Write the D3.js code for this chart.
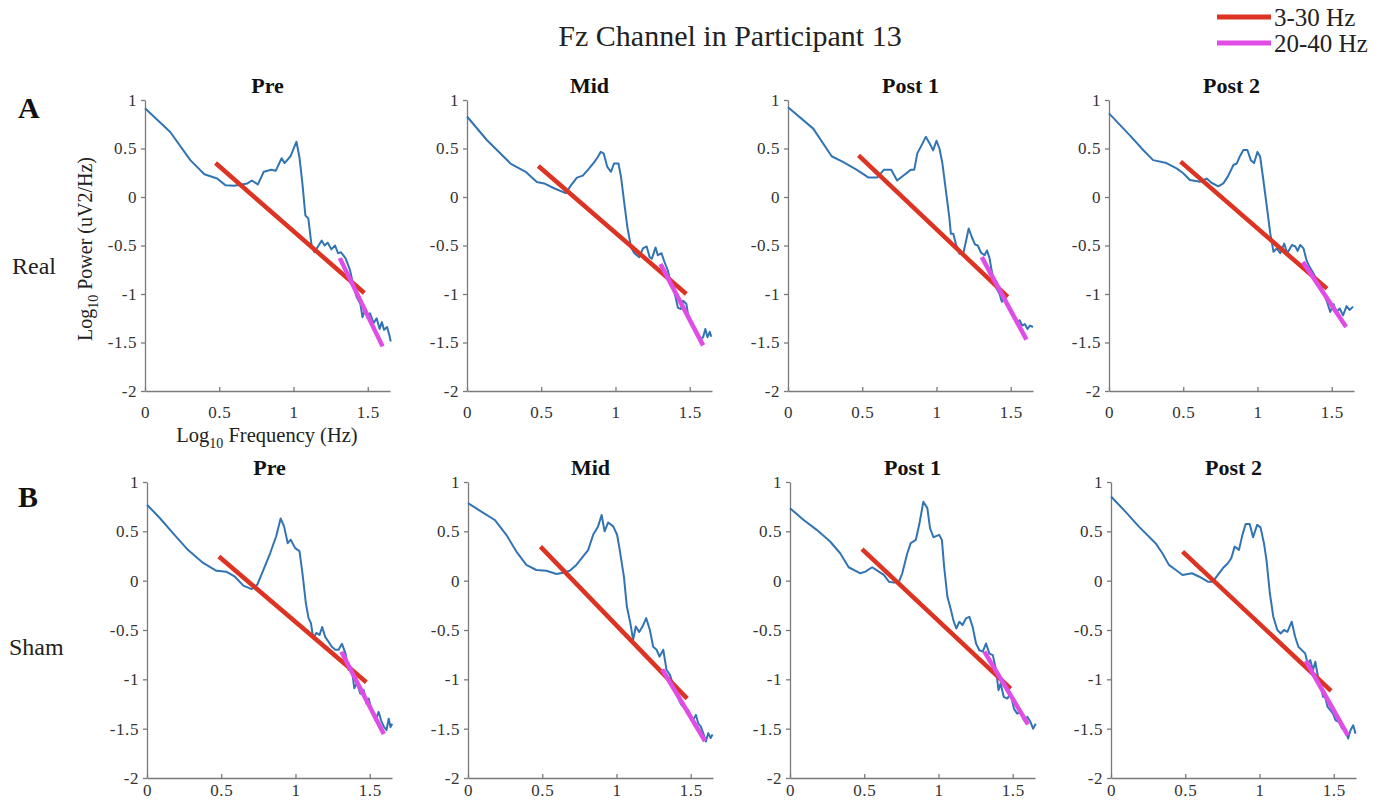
<!DOCTYPE html>
<html>
<head>
<meta charset="utf-8">
<script src="https://cdn.jsdelivr.net/npm/d3@7"></script>
<style>
  body { margin: 0; background: #fff; }
  text { font-family: "Liberation Serif", "Times New Roman", serif; }
</style>
</head>
<body>
<div id="chart"></div>
<script>
// panel labels
const sessions = ["Pre", "Mid", "Post 1", "Post 2"];
const conditions = ["Real", "Sham"];
const rowLetters = ["A", "B"];
const legendLabels = ["3-30 Hz", "20-40 Hz"];
const xTicks = [0, 0.5, 1, 1.5];
const yTicks = [1, 0.5, 0, -0.5, -1, -1.5, -2];

// spectra: [log10 frequency, log10 power]
const realPre = [[0,0.914],[0.17,0.67],[0.305,0.38],[0.40,0.235],[0.486,0.19],[0.543,0.12],[0.60,0.115],[0.69,0.14],[0.72,0.17],[0.76,0.13],[0.80,0.26],[0.85,0.28],[0.88,0.27],[0.92,0.40],[0.94,0.35],[0.98,0.42],[1.02,0.57],[1.04,0.41],[1.06,0.14],[1.08,-0.19],[1.10,-0.22],[1.12,-0.48],[1.14,-0.57],[1.165,-0.51],[1.19,-0.45],[1.21,-0.50],[1.23,-0.47],[1.255,-0.54],[1.28,-0.50],[1.30,-0.58],[1.32,-0.57],[1.35,-0.63],[1.365,-0.69],[1.38,-0.75],[1.40,-0.89],[1.425,-1.03],[1.45,-1.10],[1.465,-1.24],[1.48,-1.17],[1.50,-1.25],[1.515,-1.20],[1.54,-1.30],[1.56,-1.25],[1.58,-1.36],[1.595,-1.29],[1.61,-1.37],[1.63,-1.34],[1.645,-1.42],[1.655,-1.49]];
const realMid = [[0,0.83],[0.135,0.585],[0.293,0.345],[0.395,0.26],[0.47,0.155],[0.52,0.14],[0.586,0.09],[0.665,0.04],[0.70,0.12],[0.74,0.20],[0.78,0.22],[0.82,0.29],[0.857,0.36],[0.88,0.41],[0.90,0.465],[0.92,0.45],[0.945,0.31],[0.97,0.26],[0.99,0.345],[1.02,0.345],[1.037,0.21],[1.06,-0.07],[1.08,-0.31],[1.105,-0.52],[1.127,-0.58],[1.16,-0.62],[1.185,-0.53],[1.21,-0.51],[1.23,-0.62],[1.245,-0.635],[1.27,-0.52],[1.285,-0.60],[1.31,-0.58],[1.33,-0.67],[1.353,-0.76],[1.375,-0.90],[1.40,-1.00],[1.42,-1.14],[1.44,-1.155],[1.455,-1.07],[1.477,-1.10],[1.49,-1.22],[1.515,-1.31],[1.545,-1.39],[1.567,-1.48],[1.59,-1.445],[1.605,-1.36],[1.62,-1.445],[1.635,-1.39],[1.645,-1.44]];
const realPost1 = [[0,0.925],[0.17,0.705],[0.294,0.42],[0.373,0.36],[0.464,0.28],[0.543,0.20],[0.60,0.20],[0.645,0.28],[0.695,0.28],[0.735,0.17],[0.78,0.225],[0.826,0.28],[0.85,0.28],[0.871,0.45],[0.90,0.535],[0.928,0.62],[0.955,0.55],[0.977,0.48],[1.0,0.58],[1.02,0.50],[1.04,0.345],[1.063,0.07],[1.086,-0.205],[1.097,-0.38],[1.113,-0.38],[1.13,-0.48],[1.154,-0.585],[1.18,-0.585],[1.20,-0.445],[1.217,-0.325],[1.237,-0.41],[1.26,-0.49],[1.278,-0.50],[1.30,-0.575],[1.324,-0.60],[1.34,-0.55],[1.357,-0.63],[1.38,-0.83],[1.40,-0.93],[1.425,-1.0],[1.44,-1.08],[1.46,-1.03],[1.48,-1.13],[1.503,-1.20],[1.527,-1.25],[1.545,-1.29],[1.56,-1.27],[1.577,-1.325],[1.595,-1.31],[1.613,-1.36],[1.63,-1.325],[1.65,-1.34]];
const realPost2 = [[0,0.862],[0.15,0.62],[0.23,0.485],[0.297,0.38],[0.387,0.35],[0.455,0.295],[0.50,0.245],[0.545,0.175],[0.613,0.157],[0.658,0.19],[0.69,0.147],[0.736,0.11],[0.77,0.14],[0.80,0.21],[0.838,0.33],[0.86,0.345],[0.88,0.415],[0.905,0.485],[0.932,0.485],[0.955,0.38],[0.977,0.35],[1.0,0.465],[1.018,0.415],[1.04,0.17],[1.063,-0.10],[1.086,-0.375],[1.108,-0.565],[1.13,-0.53],[1.153,-0.58],[1.18,-0.48],[1.20,-0.58],[1.232,-0.495],[1.255,-0.51],[1.27,-0.555],[1.288,-0.495],[1.31,-0.53],[1.33,-0.65],[1.35,-0.72],[1.378,-0.79],[1.40,-0.86],[1.423,-0.89],[1.446,-0.995],[1.468,-1.08],[1.49,-1.185],[1.513,-1.105],[1.53,-1.185],[1.554,-1.15],[1.576,-1.22],[1.60,-1.125],[1.62,-1.165],[1.644,-1.13]];
const shamPre = [[0,0.77],[0.086,0.635],[0.176,0.48],[0.277,0.31],[0.378,0.18],[0.468,0.10],[0.536,0.09],[0.592,0.04],[0.649,-0.05],[0.705,-0.085],[0.743,-0.04],[0.784,0.11],[0.83,0.28],[0.87,0.45],[0.90,0.63],[0.923,0.55],[0.948,0.38],[0.968,0.415],[0.998,0.33],[1.027,0.30],[1.047,0.075],[1.07,-0.23],[1.088,-0.38],[1.104,-0.43],[1.12,-0.585],[1.14,-0.53],[1.162,-0.55],[1.18,-0.47],[1.20,-0.57],[1.223,-0.62],[1.245,-0.67],[1.268,-0.70],[1.29,-0.70],[1.313,-0.64],[1.336,-0.735],[1.358,-0.905],[1.38,-0.905],[1.396,-1.09],[1.414,-1.04],[1.437,-1.145],[1.46,-1.11],[1.477,-1.245],[1.493,-1.195],[1.516,-1.33],[1.538,-1.415],[1.56,-1.33],[1.576,-1.415],[1.595,-1.48],[1.613,-1.515],[1.628,-1.40],[1.64,-1.485],[1.651,-1.45]];
const shamMid = [[0,0.785],[0.09,0.70],[0.18,0.615],[0.258,0.465],[0.326,0.295],[0.393,0.16],[0.46,0.108],[0.528,0.10],[0.596,0.068],[0.64,0.081],[0.685,0.10],[0.73,0.16],[0.775,0.245],[0.809,0.31],[0.843,0.465],[0.876,0.55],[0.90,0.665],[0.92,0.50],[0.944,0.59],[0.978,0.55],[1.004,0.465],[1.022,0.31],[1.05,0.04],[1.07,-0.265],[1.094,-0.435],[1.112,-0.60],[1.13,-0.465],[1.153,-0.52],[1.175,-0.465],[1.20,-0.38],[1.225,-0.50],[1.247,-0.67],[1.27,-0.70],[1.29,-0.77],[1.315,-0.70],[1.337,-0.905],[1.36,-0.955],[1.378,-1.04],[1.40,-1.145],[1.416,-1.19],[1.438,-1.26],[1.46,-1.29],[1.483,-1.31],[1.50,-1.375],[1.517,-1.41],[1.535,-1.36],[1.55,-1.445],[1.568,-1.48],[1.584,-1.545],[1.602,-1.63],[1.618,-1.545],[1.634,-1.595],[1.647,-1.56]];
const shamPost1 = [[0,0.735],[0.09,0.617],[0.18,0.515],[0.27,0.397],[0.338,0.278],[0.395,0.136],[0.474,0.075],[0.508,0.092],[0.553,0.136],[0.598,0.092],[0.632,0.058],[0.666,-0.01],[0.70,-0.02],[0.734,-0.01],[0.756,0.075],[0.79,0.278],[0.813,0.38],[0.847,0.413],[0.87,0.566],[0.898,0.80],[0.925,0.735],[0.943,0.532],[0.966,0.44],[0.988,0.454],[1.005,0.464],[1.023,0.413],[1.038,0.142],[1.06,-0.163],[1.084,-0.298],[1.10,-0.40],[1.12,-0.485],[1.14,-0.417],[1.162,-0.45],[1.185,-0.383],[1.208,-0.366],[1.23,-0.468],[1.253,-0.637],[1.275,-0.705],[1.298,-0.72],[1.32,-0.637],[1.343,-0.739],[1.366,-0.755],[1.388,-0.908],[1.404,-1.11],[1.418,-1.043],[1.44,-1.178],[1.463,-1.195],[1.486,-1.145],[1.508,-1.297],[1.53,-1.348],[1.553,-1.33],[1.576,-1.415],[1.598,-1.38],[1.62,-1.433],[1.637,-1.50],[1.655,-1.45]];
const shamPost2 = [[0,0.853],[0.097,0.70],[0.188,0.548],[0.30,0.38],[0.346,0.278],[0.39,0.16],[0.437,0.108],[0.482,0.058],[0.545,0.075],[0.595,0.04],[0.652,-0.01],[0.686,-0.01],[0.72,0.058],[0.753,0.125],[0.787,0.176],[0.81,0.227],[0.833,0.345],[0.862,0.312],[0.885,0.464],[0.907,0.575],[0.934,0.575],[0.957,0.44],[0.984,0.565],[1.007,0.54],[1.03,0.38],[1.047,0.21],[1.07,-0.13],[1.093,-0.365],[1.12,-0.50],[1.143,-0.535],[1.165,-0.50],[1.188,-0.518],[1.217,-0.416],[1.24,-0.568],[1.262,-0.67],[1.285,-0.704],[1.308,-0.738],[1.324,-0.84],[1.342,-0.805],[1.36,-0.907],[1.376,-0.822],[1.394,-0.975],[1.41,-1.042],[1.428,-1.178],[1.439,-1.16],[1.459,-1.28],[1.477,-1.313],[1.495,-1.347],[1.513,-1.415],[1.534,-1.43],[1.557,-1.50],[1.579,-1.516],[1.597,-1.60],[1.613,-1.516],[1.631,-1.466],[1.647,-1.55]];

// fitted lines: [[x0, y0], [x1, y1]]
const realFit3to30 = [[[0.475,0.35],[1.477,-0.99]],[[0.48,0.32],[1.477,-1.00]],[[0.475,0.43],[1.48,-1.03]],[[0.482,0.365],[1.468,-0.945]]];
const realFit20to40 = [[[1.312,-0.63],[1.60,-1.54]],[[1.303,-0.69],[1.59,-1.53]],[[1.305,-0.62],[1.606,-1.47]],[[1.306,-0.67],[1.597,-1.34]]];
const shamFit3to30 = [[[0.484,0.245],[1.477,-1.03]],[[0.488,0.345],[1.476,-1.195]],[[0.485,0.32],[1.486,-1.095]],[[0.482,0.295],[1.482,-1.117]]];
const shamFit20to40 = [[[1.309,-0.72],[1.595,-1.555]],[[1.308,-0.90],[1.596,-1.625]],[[1.309,-0.72],[1.603,-1.457]],[[1.312,-0.812],[1.595,-1.568]]];

const realCurves = [realPre, realMid, realPost1, realPost2];
const shamCurves = [shamPre, shamMid, shamPost1, shamPost2];

// layout
const WIDTH = 1388;
const HEIGHT = 805;
const PANEL_W = 245;
const ROWS = [
  { left: [145, 467, 788, 1109], top: 100, bottom: 391, pad: 15 },
  { left: [147, 468, 790, 1111], top: 482, bottom: 778, pad: 6 },
];
const COLORS = { spectrum: "#3274b3", low: "#dd3322", high: "#e04ce6", axis: "#7a7a7a", text: "#333" };

const svg = d3
  .select("#chart")
  .append("svg")
  .attr("width", WIDTH)
  .attr("height", HEIGHT);

// main title
svg.append("text")
  .attr("x", 730)
  .attr("y", 46)
  .attr("text-anchor", "middle")
  .attr("font-size", 30)
  .attr("fill", "#222")
  .text("Fz Channel in Participant 13");

// legend
const legend = svg.append("g");
[COLORS.low, COLORS.high].forEach((c, i) => {
  legend.append("line")
    .attr("x1", 1217).attr("x2", 1271)
    .attr("y1", 17 + i * 26).attr("y2", 17 + i * 26)
    .attr("stroke", c)
    .attr("stroke-width", 5);
  legend.append("text")
    .attr("x", 1274)
    .attr("y", 26 + i * 26)
    .attr("font-size", 25)
    .attr("fill", "#222")
    .text(legendLabels[i]);
});

function drawPanel(row, col, curve, fitLow, fitHigh) {
  const r = ROWS[row];
  const x = d3.scaleLinear().domain([0, 1.65]).range([r.left[col], r.left[col] + PANEL_W]);
  const y = d3.scaleLinear().domain([-2, 1]).range([r.bottom, r.top]);
  const g = svg.append("g");

  // Add X axis
  const xAxis = g.append("g")
    .attr("transform", `translate(0,${r.bottom})`)
    .call(d3.axisBottom(x).tickValues(xTicks).tickFormat((d) => String(d)).tickSizeInner(-4).tickSizeOuter(0).tickPadding(r.pad));

  // Add Y axis
  const yAxis = g.append("g")
    .attr("transform", `translate(${r.left[col]},0)`)
    .call(d3.axisLeft(y).tickValues(yTicks).tickFormat((d) => String(d)).tickSizeInner(4).tickSizeOuter(0).tickPadding(4));

  [xAxis, yAxis].forEach((a) => {
    a.attr("font-family", null).attr("font-size", null);
    a.selectAll("path, line").attr("stroke", COLORS.axis).attr("stroke-width", 1.3);
    a.selectAll("text").attr("font-size", 17).attr("letter-spacing", 0.6).attr("fill", COLORS.text);
  });

  // panel title
  g.append("text")
    .attr("x", r.left[col] + PANEL_W / 2)
    .attr("y", r.top - 7)
    .attr("text-anchor", "middle")
    .attr("font-size", 22)
    .attr("font-weight", "bold")
    .attr("fill", "#111")
    .text(sessions[col]);

  const line = d3.line().x((d) => x(d[0])).y((d) => y(d[1]));

  g.append("path")
    .attr("d", line(curve))
    .attr("fill", "none")
    .attr("stroke", COLORS.spectrum)
    .attr("stroke-width", 2)
    .attr("stroke-linejoin", "round");

  g.append("path")
    .attr("d", line(fitLow))
    .attr("stroke", COLORS.low)
    .attr("stroke-width", 4.5);

  g.append("path")
    .attr("d", line(fitHigh))
    .attr("stroke", COLORS.high)
    .attr("stroke-width", 4.5);
}

realCurves.forEach((c, i) => drawPanel(0, i, c, realFit3to30[i], realFit20to40[i]));
shamCurves.forEach((c, i) => drawPanel(1, i, c, shamFit3to30[i], shamFit20to40[i]));

// row letters and condition names
rowLetters.forEach((l, i) => {
  svg.append("text")
    .attr("x", 18)
    .attr("y", [118, 507][i])
    .attr("font-size", 30)
    .attr("font-weight", "bold")
    .attr("fill", "#111")
    .text(l);
  svg.append("text")
    .attr("x", [12, 9][i])
    .attr("y", [274, 655][i])
    .attr("font-size", 24)
    .attr("fill", "#222")
    .text(conditions[i]);
});

// axis titles (first panel only)
const yLabel = svg.append("text")
  .attr("transform", "translate(92,249) rotate(-90)")
  .attr("text-anchor", "middle")
  .attr("font-size", 20)
  .attr("fill", "#222");
yLabel.append("tspan").text("Log");
yLabel.append("tspan").attr("font-size", 14).attr("dy", 6).text("10");
yLabel.append("tspan").attr("dy", -6).text(" Power (uV2/Hz)");

const xLabel = svg.append("text")
  .attr("x", 267)
  .attr("y", 442)
  .attr("text-anchor", "middle")
  .attr("font-size", 20.5)
  .attr("fill", "#222");
xLabel.append("tspan").text("Log");
xLabel.append("tspan").attr("font-size", 14).attr("dy", 6).text("10");
xLabel.append("tspan").attr("dy", -6).text(" Frequency (Hz)");
</script>
</body>
</html>
